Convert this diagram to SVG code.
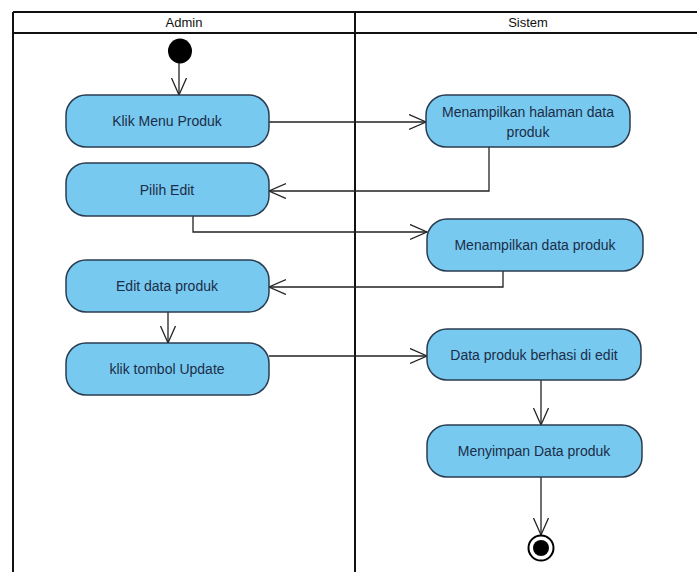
<svg xmlns="http://www.w3.org/2000/svg" width="697" height="572" viewBox="0 0 697 572">
<defs>
<marker id="arr" markerUnits="userSpaceOnUse" markerWidth="20" markerHeight="18" refX="17" refY="8" orient="auto">
<path d="M0,0.5 L17,8 L0,15.5" fill="none" stroke="#222" stroke-width="1.3"/>
</marker>
<style>
.frame{fill:none;stroke:#111;stroke-width:2}
.hdr{font-family:"Liberation Sans",Arial,sans-serif;font-size:13px;fill:#111;text-anchor:middle}
.act{fill:#78c9ef;stroke:#2a3c50;stroke-width:1.5}
.lbl{font-family:"Liberation Sans",Arial,sans-serif;font-size:14px;fill:#1b2d48;text-anchor:middle}
.con{fill:none;stroke:#222;stroke-width:1.3;marker-end:url(#arr)}
</style>
</defs>
<rect width="697" height="572" fill="#fff"/>
<g id="swimlanes">
<path class="frame" d="M13,12 H697 M13,33 H697 M13,12 V572 M355,12 V572"/>
<text class="hdr" x="184" y="27">Admin</text>
<text class="hdr" x="528" y="27">Sistem</text>
</g>
<g id="connectors">
<path class="con" d="M179,63 V95"/>
<path class="con" d="M269,122 H426"/>
<path class="con" d="M489,147 V191 H269"/>
<path class="con" d="M193,216 V232 H427"/>
<path class="con" d="M503,271 V287 H269"/>
<path class="con" d="M168,312 V343"/>
<path class="con" d="M269,356 H427"/>
<path class="con" d="M541,380 V425"/>
<path class="con" d="M541,477 V535"/>
</g>
<g id="start"><ellipse cx="180" cy="51" rx="12" ry="12.5" fill="#000"/></g>
<g id="n1"><rect class="act" x="66" y="95" width="203" height="52" rx="20"/><text class="lbl" x="167" y="126">Klik Menu Produk</text></g>
<g id="n2"><rect class="act" x="66" y="163" width="203" height="53" rx="20"/><text class="lbl" x="167" y="195">Pilih Edit</text></g>
<g id="n3"><rect class="act" x="66" y="260" width="203" height="52" rx="20"/><text class="lbl" x="167" y="291">Edit data produk</text></g>
<g id="n4"><rect class="act" x="66" y="343" width="203" height="52" rx="20"/><text class="lbl" x="167" y="374">klik tombol Update</text></g>
<g id="s1"><rect class="act" x="426" y="95" width="204" height="52" rx="20"/><text class="lbl" x="528" y="117">Menampilkan halaman data</text><text class="lbl" x="528" y="137">produk</text></g>
<g id="s2"><rect class="act" x="427" y="219" width="216" height="52" rx="20"/><text class="lbl" x="535" y="250">Menampilkan data produk</text></g>
<g id="s3"><rect class="act" x="427" y="329" width="214" height="51" rx="20"/><text class="lbl" x="534" y="360">Data produk berhasi di edit</text></g>
<g id="s4"><rect class="act" x="427" y="425" width="215" height="52" rx="20"/><text class="lbl" x="534" y="456">Menyimpan Data produk</text></g>
<g id="end"><circle cx="541" cy="548" r="12.5" fill="#fff" stroke="#000" stroke-width="2"/><circle cx="541" cy="548" r="8" fill="#000"/></g>
</svg>
